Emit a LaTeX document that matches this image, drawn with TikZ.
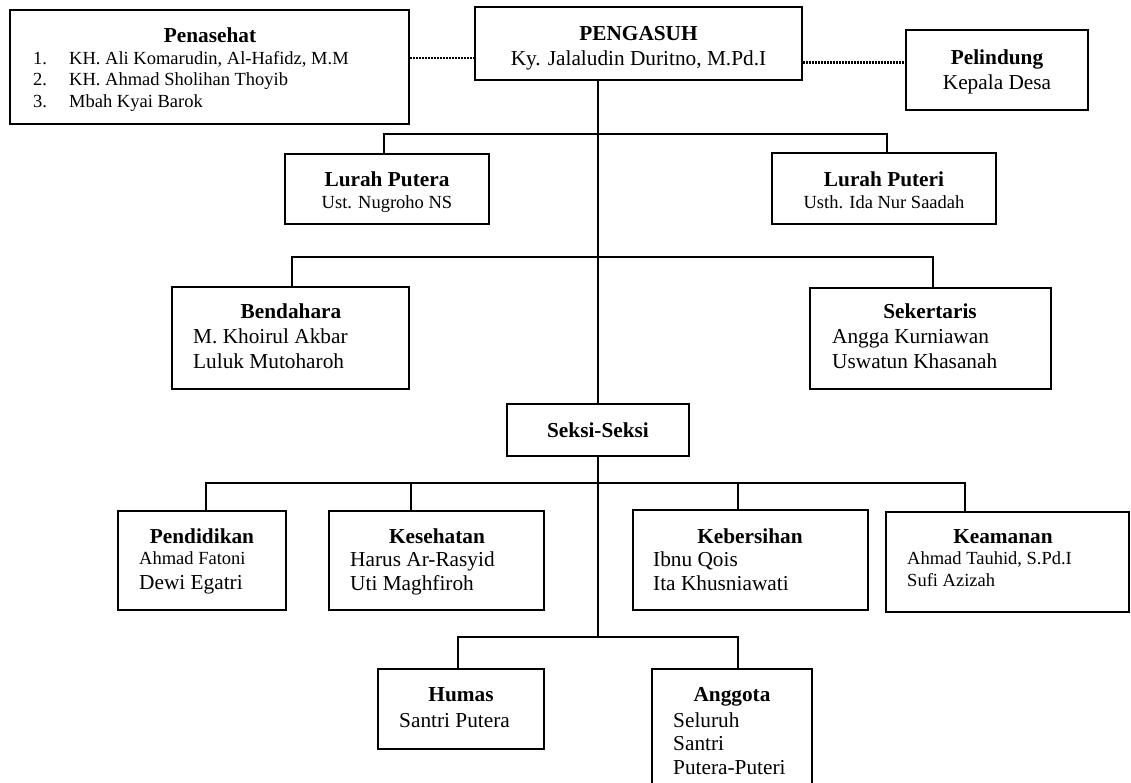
\documentclass[tikz,border=0pt]{standalone}
\usepackage{fontspec}
\setmainfont{Liberation Serif}
\usetikzlibrary{positioning, calc}

\begin{document}
\begin{tikzpicture}[
    x=1pt, y=-1pt,
    box/.style={rectangle, draw=black, line width=2.9pt, inner sep=0pt},
    heading/.style={anchor=base, inner sep=0pt, font=\fontsize{21.3}{25}\selectfont\bfseries},
    person/.style={anchor=base west, inner sep=0pt, font=\fontsize{21.3}{25}\selectfont},
    small person/.style={anchor=base west, inner sep=0pt, font=\fontsize{18.5}{22}\selectfont},
    tree line/.style={draw=black, line width=2.6pt},
    dot line/.style={draw=black, line width=2.2pt, dash pattern=on 1.4pt off 1.6pt}
]
\clip (0,0) rectangle (1131,782);

% --- Top row ---
\node[box, minimum width=399, minimum height=114] (penasehat) at (209.5,67) {};
\node[heading] (penasehat-t) at (210,42) {Penasehat};
\foreach \i/\who/\y in {1/{KH. Ali Komarudin, Al-Hafidz, M.M}/64, 2/KH. Ahmad Sholihan Thoyib/85.5, 3/Mbah Kyai Barok/107} {
    \node[small person] (pn\i) at (33,\y) {\i.};
    \node[small person] (penasehat-\i) at (69,\y) {\who};
}

\node[box, minimum width=327, minimum height=73] (pengasuh) at (638.5,43.5) {};
\node[heading] (pengasuh-t) at (638.5,40) {PENGASUH};
\node[person, anchor=base] (pengasuh-n) at (638.5,65) {Ky. Jalaludin Duritno, M.Pd.I};

\node[box, minimum width=182, minimum height=80] (pelindung) at (997,70) {};
\node[heading] (pelindung-t) at (997,64) {Pelindung};
\node[person, anchor=base] (pelindung-n) at (997,89) {Kepala Desa};

% dotted links to the advisors
\coordinate (dot-l) at ([yshift=-14.5pt]pengasuh.west);
\coordinate (dot-r) at ([yshift=-19pt]pengasuh.east);
\draw[dot line] (penasehat.east |- dot-l) -- (dot-l);
\draw[dot line] (dot-r) -- (pelindung.west |- dot-r);

% --- Lurah ---
\node[box, minimum width=204, minimum height=70] (lurah-putera) at (387,189) {};
\node[heading] (lurah-putera-t) at (387,186) {Lurah Putera};
\node[small person, anchor=base] (lurah-putera-n) at (387,208) {Ust. Nugroho NS};

\node[box, minimum width=224, minimum height=71] (lurah-puteri) at (884,188.5) {};
\node[heading] (lurah-puteri-t) at (884,186) {Lurah Puteri};
\node[small person, anchor=base] (lurah-puteri-n) at (884,208) {Usth. Ida Nur Saadah};

% --- Bendahara / Sekertaris ---
\node[box, minimum width=237, minimum height=102] (bendahara) at (290.5,338) {};
\node[heading] (bendahara-t) at (291,318) {Bendahara};
\node[person] (bendahara-1) at (193,343) {M. Khoirul Akbar};
\node[person] (bendahara-2) at (193,368) {Luluk Mutoharoh};

\node[box, minimum width=241, minimum height=101] (sekertaris) at (930.5,338.5) {};
\node[heading] (sekertaris-t) at (930,318) {Sekertaris};
\node[person] (sekertaris-1) at (832,343) {Angga Kurniawan};
\node[person] (sekertaris-2) at (832,368) {Uswatun Khasanah};

% --- Seksi ---
\node[box, minimum width=182, minimum height=52] (seksi) at (598,430) {};
\node[heading] (seksi-t) at (598,437) {Seksi-Seksi};

\node[box, minimum width=168, minimum height=99] (pendidikan) at (202,560.5) {};
\node[heading] (pendidikan-t) at (202,543) {Pendidikan};
\node[small person] (pendidikan-1) at (139,564) {Ahmad Fatoni};
\node[person] (pendidikan-2) at (139,589) {Dewi Egatri};

\node[box, minimum width=215, minimum height=99] (kesehatan) at (436.5,560.5) {};
\node[heading] (kesehatan-t) at (437,543) {Kesehatan};
\node[person] (kesehatan-1) at (350,566) {Harus Ar-Rasyid};
\node[person] (kesehatan-2) at (350,590) {Uti Maghfiroh};

\node[box, minimum width=235, minimum height=100] (kebersihan) at (750.5,560) {};
\node[heading] (kebersihan-t) at (750,543) {Kebersihan};
\node[person] (kebersihan-1) at (653,566) {Ibnu Qois};
\node[person] (kebersihan-2) at (653,590) {Ita Khusniawati};

\node[box, minimum width=243, minimum height=100] (keamanan) at (1007.5,562) {};
\node[heading] (keamanan-t) at (1003,543) {Keamanan};
\node[small person] (keamanan-1) at (907,564) {Ahmad Tauhid, S.Pd.I};
\node[small person] (keamanan-2) at (907,586) {Sufi Azizah};

% --- Humas / Anggota ---
\node[box, minimum width=166, minimum height=80] (humas) at (461,709) {};
\node[heading] (humas-t) at (461,701) {Humas};
\node[person] (humas-1) at (399,727) {Santri Putera};

\node[box, minimum width=160, minimum height=131] (anggota) at (732,734.5) {};
\node[heading] (anggota-t) at (732,701) {Anggota};
\node[person] (anggota-1) at (673,727) {Seluruh};
\node[person] (anggota-2) at (673,750) {Santri};
\node[person] (anggota-3) at (673,774) {Putera-Puteri};

% --- Tree lines ---
\coordinate (drop-putera) at (384,134);
\coordinate (drop-puteri) at (887,134);
\coordinate (drop-bendahara) at (292,257);
\coordinate (drop-sekertaris) at (933,257);
\coordinate (drop-pendidikan) at (206,483);
\coordinate (drop-kesehatan) at (411,483);
\coordinate (drop-kebersihan) at (738,483);
\coordinate (drop-keamanan) at (965,483);
\coordinate (drop-humas) at (458,637);
\coordinate (drop-anggota) at (738,637);

\draw[tree line] (pengasuh.south -| seksi.north) -- (seksi.north);
\draw[tree line] (seksi.south) -- (seksi.south |- drop-humas);

\draw[tree line] (drop-putera |- lurah-putera.north) -- (drop-putera) -- (drop-puteri) -- (drop-puteri |- lurah-puteri.north);
\draw[tree line] (drop-bendahara |- bendahara.north) -- (drop-bendahara) -- (drop-sekertaris) -- (drop-sekertaris |- sekertaris.north);
\draw[tree line] (drop-pendidikan |- pendidikan.north) -- (drop-pendidikan) -- (drop-keamanan) -- (drop-keamanan |- keamanan.north);
\draw[tree line] (drop-kesehatan) -- (drop-kesehatan |- kesehatan.north);
\draw[tree line] (drop-kebersihan) -- (drop-kebersihan |- kebersihan.north);
\draw[tree line] (drop-humas |- humas.north) -- (drop-humas) -- (drop-anggota) -- (drop-anggota |- anggota.north);

\end{tikzpicture}
\end{document}
